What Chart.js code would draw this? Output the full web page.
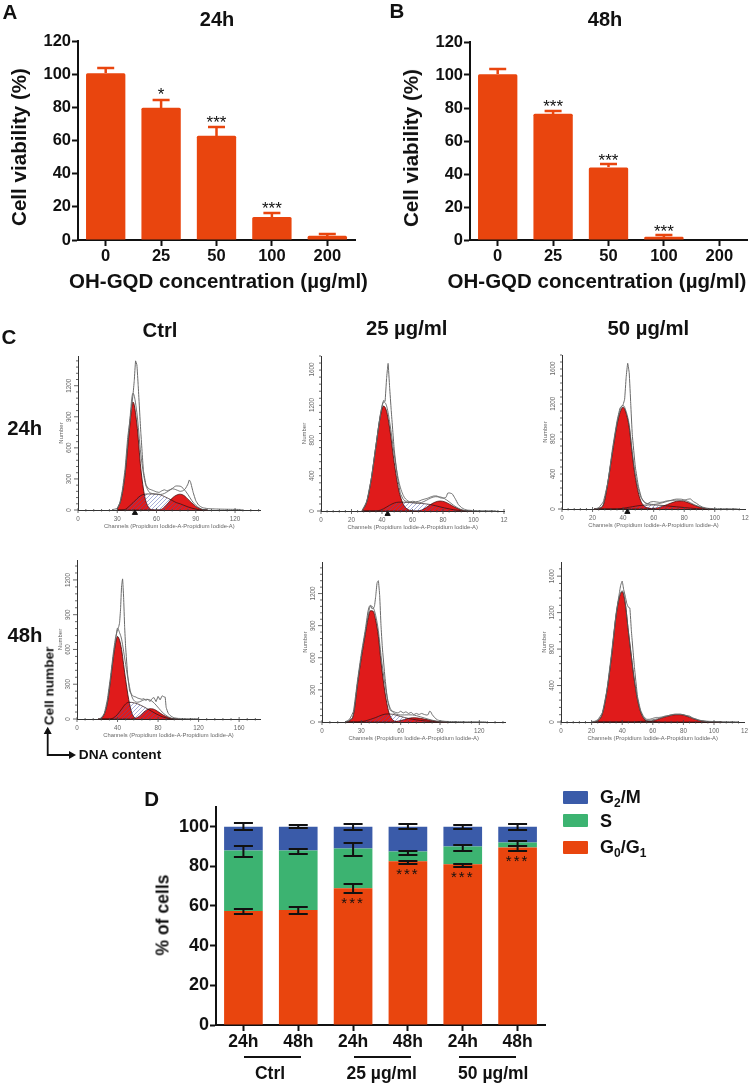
<!DOCTYPE html>
<html>
<head>
<meta charset="utf-8">
<title>OH-GQD</title>
<script src="https://cdn.jsdelivr.net/npm/chart.js@4/dist/chart.umd.min.js"></script>
<style>
    html, body { margin: 0; padding: 0; background: #fff; }
    #page { position: relative; width: 751px; height: 1091px; overflow: hidden; font-family: "Liberation Sans", Arial, sans-serif; filter: blur(0.35px); }
    #page canvas { position: absolute; }
    .txt { position: absolute; font-weight: bold; color: #111; white-space: nowrap; transform: translate(-50%, -50%); }
    .swatch { position: absolute; left: 563px; width: 25px; height: 13px; border-radius: 1px; }
    .leg { position: absolute; left: 600px; font-weight: bold; font-size: 18px; color: #111; transform: translateY(-50%); white-space: nowrap; }
    .leg sub { font-size: 12px; line-height: 0; vertical-align: -4px; }
    .rule { position: absolute; height: 2px; background: #111; }
</style>
</head>
<body>
<div id="page">
    <svg width="90" height="50" style="position:absolute;left:40px;top:722px" fill="none" stroke="#111" stroke-width="1.8">
        <path d="M7.7 10 V33 H30"/>
        <path d="M3.7 12 L7.7 4.7 L11.7 12 Z M29 29 L36 33 L29 37 Z" fill="#111" stroke="none"/>
    </svg>
</div>
<script>
// Panel A / B data
const concentrations = ['0', '25', '50', '100', '200'];
const viability24 = [100.5, 79.8, 62.9, 13.8, 2.5];
const viability24Err = [103.5, 84.5, 68, 16.5, 3.5];
const viability24Stars = ['', '*', '***', '***', ''];
const viability24StarY = [0, 89.2, 72.1, 20.8, 0];
const viability48 = [100.5, 76.5, 44, 2, 0];
const viability48Err = [103.5, 78, 46, 2.8, 0];
const viability48Stars = ['', '***', '***', '***', ''];
const viability48StarY = [0, 82.7, 50, 6.8, 0];

// Panel D data
const cyclePairs = ['24h', '48h', '24h', '48h', '24h', '48h'];
const g0g1 = [57.5, 58, 69, 82.5, 81, 89.5];
const sPhase = [30.5, 30, 20, 5, 9, 2.5];
const g2m = [12, 12, 11, 12.5, 10, 8];
const g0g1Low = [55.8, 55.8, 66.7, 81.2, 79.9, 87.9];
const g0g1High = [58.3, 59.3, 70.9, 82.7, 81.4, 90.3];
const sLow = [84.9, 86.4, 85.3, 85.8, 87.9, 90.3];
const sHigh = [90.1, 88.6, 92, 87.6, 90.6, 92.8];
const g2mLow = [98.2, 99.2, 98.3, 98.7, 98.8, 98.5];
const g2mHigh = [101.8, 100.8, 101.5, 101.3, 101, 101.3];
const cycleStars = ['', '', '***', '***', '***', '***'];
const cycleStarY = [0, 0, 62.5, 77.2, 75.5, 83.8];

// Panel C data, one set of arrays per histogram (channel, number of cells)
const c1Channels = [30, 33, 36, 39, 42, 45, 48, 51, 54, 57, 60, 63, 66, 69, 72, 75, 78, 81, 84, 87, 90, 93, 96, 99];
const c1G1 = [10, 110, 350, 740, 1044, 830, 400, 130, 25, 3, 0, 0, 0, 0, 0, 0, 0, 0, 0, 0, 0, 0, 0, 0];
const c1S = [0, 0, 5, 35, 70, 108, 140, 152, 155, 155, 153, 146, 130, 112, 92, 72, 60, 45, 30, 18, 8, 2, 0, 0];
const c1G2 = [0, 0, 0, 0, 0, 0, 0, 0, 0, 0, 0, 3, 30, 70, 115, 142, 153, 140, 105, 68, 35, 14, 2, 0];
const c1Fit = [10, 110, 355, 775, 1128, 938, 540, 282, 180, 158, 153, 150, 160, 182, 207, 232, 230, 200, 150, 90, 45, 18, 3, 0];
const c1RawX = [26, 30, 32, 34, 36, 38, 40, 42, 43, 44, 45, 46, 48, 50, 52, 54, 56, 58, 60, 62, 64, 66, 68, 70, 72, 74, 76, 78, 80, 82, 84, 85, 86, 88, 90, 92, 94, 96, 100, 105, 110, 120, 125];
const c1Raw = [3, 15, 70, 200, 400, 700, 900, 1110, 1250, 1440, 1400, 1200, 750, 380, 240, 205, 195, 185, 175, 170, 185, 195, 185, 195, 205, 200, 190, 180, 185, 205, 250, 290, 270, 170, 90, 50, 30, 20, 12, 10, 8, 6, 5];
const c1XTicks = [0, 30, 60, 90, 120];
const c1XLabels = ['0', '30', '60', '90', '120'];
const c1YTicks = [0, 300, 600, 900, 1200];

const c2Channels = [27, 30, 33, 36, 39, 41, 43, 45, 48, 51, 54, 57, 60, 63, 66, 69, 72, 75, 78, 81, 84, 87, 90, 93, 96, 99];
const c2G1 = [5, 106, 365, 735, 1080, 1187, 1130, 940, 550, 237, 75, 17, 3, 0, 0, 0, 0, 0, 0, 0, 0, 0, 0, 0, 0, 0];
const c2S = [0, 0, 0, 0, 10, 25, 45, 65, 90, 100, 100, 97, 93, 90, 85, 80, 72, 60, 47, 35, 24, 14, 7, 2, 0, 0];
const c2G2 = [0, 0, 0, 0, 0, 0, 0, 0, 0, 0, 0, 0, 0, 0, 12, 40, 75, 102, 113, 105, 80, 50, 25, 8, 1, 0];
const c2Fit = [5, 106, 365, 735, 1095, 1234, 1190, 1010, 640, 337, 175, 114, 96, 90, 97, 120, 147, 162, 160, 140, 104, 64, 32, 10, 1, 0];
const c2RawX = [27, 30, 33, 36, 39, 41, 42, 43, 44, 45, 46, 48, 50, 52, 54, 56, 58, 60, 62, 64, 66, 68, 70, 72, 74, 76, 78, 80, 82, 83, 84, 86, 88, 90, 92, 94, 96, 100, 105, 115];
const c2Raw = [5, 110, 370, 740, 1100, 1250, 1240, 1500, 1670, 1400, 1150, 700, 400, 200, 130, 105, 100, 110, 105, 110, 125, 135, 145, 160, 170, 170, 150, 145, 155, 200, 205, 195, 140, 75, 40, 20, 10, 5, 3, 2];
const c2XTicks = [0, 20, 40, 60, 80, 100, 120];
const c2XLabels = ['0', '20', '40', '60', '80', '100', '12'];
const c2YTicks = [0, 400, 800, 1200, 1600];

const c3Channels = [21, 24, 27, 30, 33, 36, 38, 40, 42, 44, 46, 48, 51, 54, 57, 60, 63, 66, 69, 72, 75, 78, 81, 84, 87, 90, 93, 96, 99];
const c3G1 = [0, 8, 45, 300, 640, 960, 1100, 1160, 1090, 930, 620, 360, 120, 30, 10, 2, 0, 0, 0, 0, 0, 0, 0, 0, 0, 0, 0, 0, 0];
const c3S = [0, 0, 0, 0, 0, 0, 3, 8, 14, 20, 26, 32, 40, 44, 46, 46, 44, 40, 35, 30, 25, 20, 15, 10, 6, 3, 0, 0, 0];
const c3G2 = [0, 0, 0, 0, 0, 0, 0, 0, 0, 0, 0, 0, 0, 0, 0, 5, 15, 32, 52, 72, 88, 92, 82, 62, 40, 22, 10, 2, 0];
const c3Fit = [0, 8, 50, 305, 650, 975, 1125, 1180, 1110, 955, 650, 395, 165, 78, 58, 52, 60, 72, 87, 102, 113, 112, 97, 72, 46, 25, 10, 2, 0];
const c3RawX = [22, 24, 27, 30, 33, 36, 38, 40, 41, 42, 43, 44, 45, 46, 48, 50, 52, 54, 56, 58, 60, 62, 64, 66, 68, 70, 72, 74, 76, 78, 80, 82, 84, 86, 88, 90, 92, 94, 96, 100, 110, 115];
const c3Raw = [3, 15, 80, 300, 680, 1000, 1150, 1190, 1250, 1500, 1660, 1550, 1200, 850, 480, 260, 130, 75, 60, 80, 85, 80, 75, 80, 90, 95, 95, 100, 100, 95, 100, 110, 115, 85, 65, 40, 22, 12, 7, 4, 2, 2];

const c4Channels = [21, 24, 27, 30, 33, 36, 38, 40, 42, 44, 46, 48, 51, 54, 57, 60, 63, 66, 69, 72, 75, 78, 81, 84, 87, 90, 93, 96, 100];
const c4G1 = [0, 8, 45, 140, 330, 540, 650, 712, 680, 600, 470, 340, 170, 55, 10, 0, 0, 0, 0, 0, 0, 0, 0, 0, 0, 0, 0, 0, 0];
const c4S = [0, 0, 0, 0, 0, 10, 22, 40, 62, 85, 110, 130, 144, 143, 138, 130, 118, 105, 90, 75, 60, 45, 32, 20, 12, 5, 1, 0, 0];
const c4G2 = [0, 0, 0, 0, 0, 0, 0, 0, 0, 0, 0, 0, 0, 0, 5, 15, 35, 60, 80, 89, 87, 75, 58, 40, 25, 14, 6, 1, 0];
const c4Fit = [0, 8, 45, 140, 330, 550, 672, 784, 745, 690, 585, 470, 314, 198, 153, 145, 153, 165, 170, 164, 147, 120, 90, 60, 37, 19, 7, 1, 0];
const c4RawX = [22, 24, 27, 30, 33, 36, 38, 40, 41, 42, 43, 44, 45, 46, 47, 48, 50, 52, 54, 56, 58, 60, 62, 64, 66, 68, 70, 72, 74, 76, 78, 80, 82, 84, 86, 87, 88, 90, 92, 94, 96, 100, 110, 120];
const c4Raw = [3, 10, 50, 170, 360, 580, 700, 770, 790, 830, 950, 1150, 1209, 1050, 800, 620, 380, 240, 210, 195, 190, 180, 175, 170, 175, 160, 170, 150, 175, 185, 150, 195, 165, 200, 190, 190, 100, 50, 30, 18, 10, 5, 3, 2];
const c4XTicks = [0, 40, 80, 120, 160];
const c4XLabels = ['0', '40', '80', '120', '160'];

const c5Channels = [18, 21, 24, 27, 30, 33, 35, 37, 39, 41, 43, 45, 48, 51, 54, 57, 60, 63, 66, 69, 72, 75, 78, 81, 84, 87, 90, 93, 96];
const c5G1 = [0, 15, 70, 350, 600, 820, 960, 1040, 1035, 950, 800, 560, 280, 90, 20, 3, 0, 0, 0, 0, 0, 0, 0, 0, 0, 0, 0, 0, 0];
const c5S = [0, 0, 0, 0, 3, 10, 17, 25, 33, 42, 52, 62, 73, 75, 72, 62, 52, 42, 33, 26, 20, 15, 11, 7, 4, 2, 0, 0, 0];
const c5G2 = [0, 0, 0, 0, 0, 0, 0, 0, 0, 0, 0, 0, 0, 0, 0, 6, 14, 24, 34, 40, 39, 34, 27, 20, 13, 7, 2, 0, 0];
const c5Fit = [0, 15, 70, 350, 610, 835, 980, 1084, 1070, 992, 852, 622, 353, 165, 92, 72, 66, 66, 67, 66, 59, 49, 38, 27, 17, 9, 2, 0, 0];
const c5RawX = [18, 21, 24, 27, 30, 33, 35, 36, 37, 38, 39, 40, 41, 42, 43, 44, 45, 46, 48, 50, 52, 54, 56, 58, 60, 62, 64, 66, 68, 70, 72, 74, 76, 78, 80, 81, 82, 83, 84, 86, 88, 90, 94, 100, 110, 125];
const c5Raw = [3, 25, 100, 380, 640, 860, 1030, 1080, 1090, 1060, 1060, 1080, 1180, 1300, 1320, 1180, 900, 700, 420, 200, 110, 100, 90, 85, 100, 85, 95, 80, 90, 70, 80, 70, 80, 70, 65, 70, 100, 95, 70, 40, 20, 12, 6, 4, 2, 1];

const c6Channels = [21, 24, 27, 30, 33, 36, 38, 40, 42, 44, 46, 48, 51, 54, 57, 60, 63, 66, 69, 72, 75, 78, 81, 84, 87, 90, 93, 96, 99, 105];
const c6G1 = [0, 15, 90, 340, 720, 1170, 1360, 1430, 1300, 1000, 720, 450, 170, 40, 6, 0, 0, 0, 0, 0, 0, 0, 0, 0, 0, 0, 0, 0, 0, 0];
const c6S = [0, 0, 0, 0, 0, 0, 0, 0, 0, 0, 0, 0, 5, 8, 8, 6, 3, 0, 0, 0, 0, 0, 0, 0, 0, 0, 0, 0, 0, 0];
const c6G2 = [0, 0, 0, 0, 0, 0, 0, 0, 0, 0, 0, 0, 0, 0, 3, 12, 27, 45, 60, 72, 80, 80, 70, 52, 33, 18, 8, 2, 0, 0];
const c6Fit = [0, 15, 90, 340, 720, 1170, 1365, 1440, 1305, 1000, 720, 450, 175, 48, 17, 25, 35, 50, 65, 77, 85, 85, 75, 56, 36, 20, 9, 3, 1, 0];
const c6RawX = [20, 22, 24, 27, 30, 33, 36, 38, 39, 40, 41, 42, 43, 44, 45, 46, 48, 50, 52, 54, 56, 58, 60, 62, 64, 66, 68, 70, 72, 74, 76, 78, 80, 82, 84, 86, 88, 90, 92, 96, 100, 105, 110, 116];
const c6Raw = [5, 8, 25, 100, 350, 750, 1190, 1400, 1500, 1546, 1450, 1380, 1300, 1260, 1250, 1000, 600, 280, 130, 60, 30, 30, 40, 50, 50, 55, 65, 70, 80, 85, 85, 85, 80, 70, 65, 45, 35, 22, 15, 8, 5, 3, 3, 2];

const page = document.getElementById('page');

function makeCanvas(left, top, width, height) {
    const canvas = document.createElement('canvas');
    canvas.width = width;
    canvas.height = height;
    canvas.style.left = left + 'px';
    canvas.style.top = top + 'px';
    page.appendChild(canvas);
    return canvas;
}

// Whiskers and stars, read through the chart scales
const annotationPlugin = {
    id: 'annotations',
    afterDatasetsDraw(chart, args, opts) {
        const { ctx, scales } = chart;
        const xs = chart.getDatasetMeta(0).data.map(bar => bar.x);
        ctx.save();
        ctx.lineWidth = opts.lineWidth;
        ctx.strokeStyle = opts.color;
        (opts.whiskers || []).forEach(w => {
            w.low.forEach((low, i) => {
                const high = w.high[i];
                if (!high) return;
                const y1 = Math.round(scales.y.getPixelForValue(low));
                const y2 = Math.round(scales.y.getPixelForValue(high));
                ctx.beginPath();
                ctx.moveTo(xs[i], y1);
                ctx.lineTo(xs[i], y2);
                ctx.moveTo(xs[i] - opts.cap, y2);
                ctx.lineTo(xs[i] + opts.cap, y2);
                if (w.bothCaps) {
                    ctx.moveTo(xs[i] - opts.cap, y1);
                    ctx.lineTo(xs[i] + opts.cap, y1);
                }
                ctx.stroke();
            });
        });
        ctx.fillStyle = '#111';
        ctx.textAlign = 'center';
        ctx.textBaseline = 'alphabetic';
        ctx.font = opts.starFont;
        ctx.letterSpacing = opts.starSpacing || '0px';
        opts.stars.forEach((star, i) => {
            if (star) ctx.fillText(star, xs[i], scales.y.getPixelForValue(opts.starY[i]) + opts.starDrop);
        });
        ctx.restore();
    }
};

function barAxes(ticksFont, yMax, yWidth, xHeight, yPadding) {
    return {
        x: {
            offset: true,
            afterFit: s => { s.height = xHeight; },
            grid: { offset: false, drawOnChartArea: false, tickLength: 6, tickWidth: 2, tickColor: '#111' },
            border: { color: '#111', width: 2 },
            ticks: { color: '#111', font: ticksFont, padding: 1, maxRotation: 0, autoSkip: false }
        },
        y: {
            min: 0,
            max: yMax,
            afterFit: s => { s.width = yWidth; },
            grid: { drawOnChartArea: false, tickLength: 6, tickWidth: 2, tickColor: '#111' },
            border: { color: '#111', width: 2 },
            ticks: { color: '#111', font: ticksFont, padding: yPadding, stepSize: 20, includeBounds: false }
        }
    };
}

function viabilityChart(canvas, paddingTop, values, tops, stars, starY, paddingRight) {
    return new Chart(canvas, {
        type: 'bar',
        data: {
            labels: concentrations,
            datasets: [{ data: values, backgroundColor: '#E9450E', borderRadius: 1.5, categoryPercentage: 1, barPercentage: 0.71 }]
        },
        options: {
            responsive: false,
            animation: false,
            layout: { padding: { top: paddingTop, right: paddingRight } },
            plugins: {
                legend: { display: false },
                tooltip: { enabled: false },
                annotations: {
                    color: '#E9450E', lineWidth: 2.5, cap: 8.5,
                    whiskers: [{ low: values, high: tops }],
                    stars: stars, starY: starY, starFont: '17px "Liberation Sans"', starDrop: 8
                }
            },
            scales: barAxes({ family: 'Liberation Sans', weight: 'bold', size: 16.5 }, 120, 48, 30, 1)
        },
        plugins: [annotationPlugin]
    });
}

viabilityChart(makeCanvas(30, 30, 328, 240), 11, viability24, viability24Err, viability24Stars, viability24StarY, 3);
viabilityChart(makeCanvas(422, 30, 329, 240), 12, viability48, viability48Err, viability48Stars, viability48StarY, 4);

// Panel D
new Chart(makeCanvas(150, 795, 400, 262), {
    type: 'bar',
    data: {
        labels: cyclePairs,
        datasets: [
            { label: 'G0/G1', data: g0g1, backgroundColor: '#E9450E' },
            { label: 'S', data: sPhase, backgroundColor: '#3CB371' },
            { label: 'G2/M', data: g2m, backgroundColor: '#3A5BA9' }
        ].map(d => ({ ...d, categoryPercentage: 1, barPercentage: 0.705, stack: 'cells' }))
    },
    options: {
        responsive: false,
        animation: false,
        layout: { padding: { top: 10, right: 5 } },
        plugins: {
            legend: { display: false },
            tooltip: { enabled: false },
            annotations: {
                color: '#111', lineWidth: 2, cap: 9.5,
                whiskers: [
                    { low: g0g1Low, high: g0g1High, bothCaps: true },
                    { low: sLow, high: sHigh, bothCaps: true },
                    { low: g2mLow, high: g2mHigh, bothCaps: true }
                ],
                stars: cycleStars, starY: cycleStarY, starFont: '15px "Liberation Sans"', starSpacing: '2px', starDrop: 7
            }
        },
        scales: (() => {
            const axes = barAxes({ family: 'Liberation Sans', weight: 'bold', size: 18 }, 110, 66, 32, 1);
            axes.x.stacked = true;
            axes.y.stacked = true;
            axes.x.ticks.font = { family: 'Liberation Sans', weight: 'bold', size: 17.5 };
            return axes;
        })()
    },
    plugins: [annotationPlugin]
});

// Blue diagonal hatching for the S phase
function hatchPattern() {
    const tile = document.createElement('canvas');
    tile.width = 4;
    tile.height = 4;
    const t = tile.getContext('2d');
    t.strokeStyle = 'rgba(70, 85, 175, 0.8)';
    t.lineWidth = 0.6;
    t.beginPath();
    t.moveTo(-1, 5);
    t.lineTo(5, -1);
    t.moveTo(-1, 1);
    t.lineTo(1, -1);
    t.moveTo(3, 5);
    t.lineTo(5, 3);
    t.stroke();
    return t.createPattern(tile, 'repeat');
}

function pts(xs, ys) {
    return xs.map((x, i) => ({ x: x, y: ys[i] }));
}

// Minor / major ticks and rotated labels of the flow cytometry plots
const cytoAxesPlugin = {
    id: 'cytoAxes',
    afterDraw(chart, args, opts) {
        const { ctx, scales } = chart;
        const x0 = scales.y.getPixelForValue(0);
        const xLeft = scales.x.getPixelForValue(0);
        ctx.save();
        ctx.strokeStyle = '#444';
        ctx.lineWidth = 0.8;
        ctx.beginPath();
        scales.x.ticks.forEach(t => {
            const px = scales.x.getPixelForValue(t.value);
            const major = opts.xMajors.includes(t.value);
            ctx.moveTo(px, x0 - (major ? 2 : 1));
            ctx.lineTo(px, x0 + (major ? 3 : 1.5));
        });
        scales.y.ticks.forEach(t => {
            const py = scales.y.getPixelForValue(t.value);
            ctx.moveTo(xLeft - (opts.yMajors.includes(t.value) ? 4 : 2), py);
            ctx.lineTo(xLeft, py);
        });
        ctx.stroke();
        ctx.fillStyle = '#666';
        ctx.font = '6.3px "Liberation Sans"';
        ctx.textAlign = 'center';
        ctx.textBaseline = 'middle';
        opts.xMajors.forEach((v, i) => {
            ctx.fillText(opts.xLabels[i], scales.x.getPixelForValue(v), x0 + 9);
        });
        opts.yMajors.forEach(v => {
            ctx.save();
            ctx.translate(xLeft - 8.7, scales.y.getPixelForValue(v));
            ctx.rotate(-Math.PI / 2);
            ctx.fillText(String(v), 0, 0);
            ctx.restore();
        });
        ctx.restore();
    }
};

function cytoChart(spec) {
    const axisLeft = Math.round(spec.axisX) - 20;
    const top = Math.floor(spec.axisTop);
    const canvas = makeCanvas(axisLeft, top, Math.min(spec.axisRight + 6, 751) - axisLeft, spec.axisY - top + 20);
    const smooth = { tension: 0.3, cubicInterpolationMode: 'monotone', pointRadius: 0, clip: false };
    const datasets = [
        { ...smooth, data: pts(spec.rawX, spec.raw), borderColor: '#6a6a6a', borderWidth: 1, fill: false, cubicInterpolationMode: 'default', tension: 0.1 },
        { ...smooth, data: pts(spec.channels, spec.fit), borderColor: '#555', borderWidth: 0.8, fill: false },
        { ...smooth, data: pts(spec.channels, spec.s), borderColor: '#2a1010', borderWidth: 0.7, fill: 'origin', backgroundColor: hatchPattern() },
        { ...smooth, data: pts(spec.channels, spec.g2), borderColor: '#3a0d0d', borderWidth: 0.7, fill: 'origin', backgroundColor: '#E01B1B' },
        { ...smooth, data: pts(spec.channels, spec.g1), borderColor: '#3a0d0d', borderWidth: 0.8, fill: 'origin', backgroundColor: '#E01B1B' }
    ];
    if (spec.marker) {
        datasets.unshift({
            data: [{ x: spec.marker, y: spec.markerY }],
            pointStyle: 'triangle', pointRadius: 3, backgroundColor: '#111', borderColor: '#111',
            showLine: false, clip: false
        });
    }
    return new Chart(canvas, {
        type: 'line',
        data: { datasets: datasets },
        options: {
            responsive: false,
            animation: false,
            layout: { padding: { top: spec.axisTop - top, right: canvas.width - (spec.axisRight - axisLeft) } },
            plugins: {
                legend: { display: false },
                tooltip: { enabled: false },
                cytoAxes: { xMajors: spec.xTicks, xLabels: spec.xLabels, yMajors: spec.yTicks }
            },
            scales: {
                x: {
                    type: 'linear', min: 0, max: spec.xMax,
                    afterFit: s => { s.height = 20; },
                    grid: { display: false },
                    border: { color: '#333', width: 1 },
                    ticks: { display: false, stepSize: spec.xStep, includeBounds: false },
                    title: { display: true, text: 'Channels (Propidium Iodide-A-Propidium Iodide-A)', color: '#666', font: { family: 'Liberation Sans', size: 5.8 }, padding: 0 }
                },
                y: {
                    min: 0, max: spec.yMax,
                    afterFit: s => { s.width = 20; },
                    grid: { display: false },
                    border: { color: '#333', width: 1 },
                    ticks: { display: false, stepSize: spec.yStep, includeBounds: false },
                    title: { display: true, text: 'Number', color: '#666', font: { family: 'Liberation Sans', size: 6 }, padding: 0 }
                }
            }
        },
        plugins: [cytoAxesPlugin]
    });
}

cytoChart({ axisX: 77.7, axisY: 510, axisTop: 351.7, axisRight: 260.7, xMax: 139.6, yMax: 1487, xStep: 6, yStep: 60,
    xTicks: c1XTicks, xLabels: c1XLabels, yTicks: c1YTicks, channels: c1Channels, g1: c1G1, s: c1S, g2: c1G2, fit: c1Fit, rawX: c1RawX, raw: c1Raw, marker: 43.5, markerY: -28 });
cytoChart({ axisX: 321, axisY: 511, axisTop: 351.7, axisRight: 504.3, xMax: 120.2, yMax: 1754, xStep: 4, yStep: 80,
    xTicks: c2XTicks, xLabels: c2XLabels, yTicks: c2YTicks, channels: c2Channels, g1: c2G1, s: c2S, g2: c2G2, fit: c2Fit, rawX: c2RawX, raw: c2Raw, marker: 43.7, markerY: -33 });
cytoChart({ axisX: 562, axisY: 509, axisTop: 350, axisRight: 745, xMax: 119.8, yMax: 1754, xStep: 4, yStep: 80,
    xTicks: c2XTicks, xLabels: c2XLabels, yTicks: c2YTicks, channels: c3Channels, g1: c3G1, s: c3S, g2: c3G2, fit: c3Fit, rawX: c3RawX, raw: c3Raw, marker: 42.8, markerY: -33 });
cytoChart({ axisX: 77, axisY: 719, axisTop: 560, axisRight: 260, xMax: 180.6, yMax: 1372, xStep: 8, yStep: 60,
    xTicks: c4XTicks, xLabels: c4XLabels, yTicks: c1YTicks, channels: c4Channels, g1: c4G1, s: c4S, g2: c4G2, fit: c4Fit, rawX: c4RawX, raw: c4Raw });
cytoChart({ axisX: 322.3, axisY: 722, axisTop: 562.3, axisRight: 505.3, xMax: 139.8, yMax: 1492, xStep: 6, yStep: 60,
    xTicks: c1XTicks, xLabels: c1XLabels, yTicks: c1YTicks, channels: c5Channels, g1: c5G1, s: c5S, g2: c5G2, fit: c5Fit, rawX: c5RawX, raw: c5Raw });
cytoChart({ axisX: 561.3, axisY: 722, axisTop: 562.3, axisRight: 744.3, xMax: 119.8, yMax: 1752, xStep: 4, yStep: 80,
    xTicks: c2XTicks, xLabels: c2XLabels, yTicks: c2YTicks, channels: c6Channels, g1: c6G1, s: c6S, g2: c6G2, fit: c6Fit, rawX: c6RawX, raw: c6Raw });

// Page text: [text, centre x, centre y, size, rotation]
const pageLabels = [
    ['A', 10, 12, 20.5, 0], ['B', 397, 11, 20.5, 0], ['C', 9, 337, 20.5, 0], ['D', 151.7, 799, 20.5, 0],
    ['24h', 217, 19, 20, 0], ['48h', 605, 19, 20, 0],
    ['Cell viability (%)', 19.3, 147, 20.6, -90], ['Cell viability (%)', 410.7, 147.5, 20.6, -90],
    ['OH-GQD concentration (µg/ml)', 218.5, 281, 20.5, 0], ['OH-GQD concentration (µg/ml)', 597, 281, 20.5, 0],
    ['Ctrl', 160, 330, 20.3, 0], ['25 µg/ml', 406.7, 328.3, 20.3, 0], ['50 µg/ml', 648.3, 328.3, 20.3, 0],
    ['24h', 24.7, 428, 20.3, 0], ['48h', 25, 635, 20.3, 0],
    ['Cell number', 48.7, 685.5, 13.6, -90], ['DNA content', 120, 754.3, 13.7, 0],
    ['% of cells', 162.7, 914.7, 17.6, -90],
    ['Ctrl', 270, 1072.7, 17.5, 0], ['25 µg/ml', 381.7, 1072.7, 17.5, 0], ['50 µg/ml', 493.3, 1072.7, 17.5, 0]
];
pageLabels.forEach(([text, x, y, size, angle]) => {
    const el = document.createElement('div');
    el.className = 'txt';
    el.textContent = text;
    el.style.left = x + 'px';
    el.style.top = y + 'px';
    el.style.fontSize = size + 'px';
    if (angle) el.style.transform = `translate(-50%, -50%) rotate(${angle}deg)`;
    page.appendChild(el);
});

// Group rules under panel D: [left, width]
[[244, 57], [354, 57], [459, 57]].forEach(([left, width]) => {
    const el = document.createElement('div');
    el.className = 'rule';
    el.style.left = left + 'px';
    el.style.top = '1056px';
    el.style.width = width + 'px';
    page.appendChild(el);
});

// Legend of panel D
const legendRows = [
    ['G<sub>2</sub>/M', '#3A5BA9', 791, 797],
    ['S', '#3CB371', 814, 820.5],
    ['G<sub>0</sub>/G<sub>1</sub>', '#E9450E', 841, 847]
];
legendRows.forEach(([html, color, swatchTop, textY]) => {
    const sw = document.createElement('div');
    sw.className = 'swatch';
    sw.style.top = swatchTop + 'px';
    sw.style.background = color;
    page.appendChild(sw);
    const el = document.createElement('div');
    el.className = 'leg';
    el.style.top = textY + 'px';
    el.innerHTML = html;
    page.appendChild(el);
});
</script>
</body>
</html>
